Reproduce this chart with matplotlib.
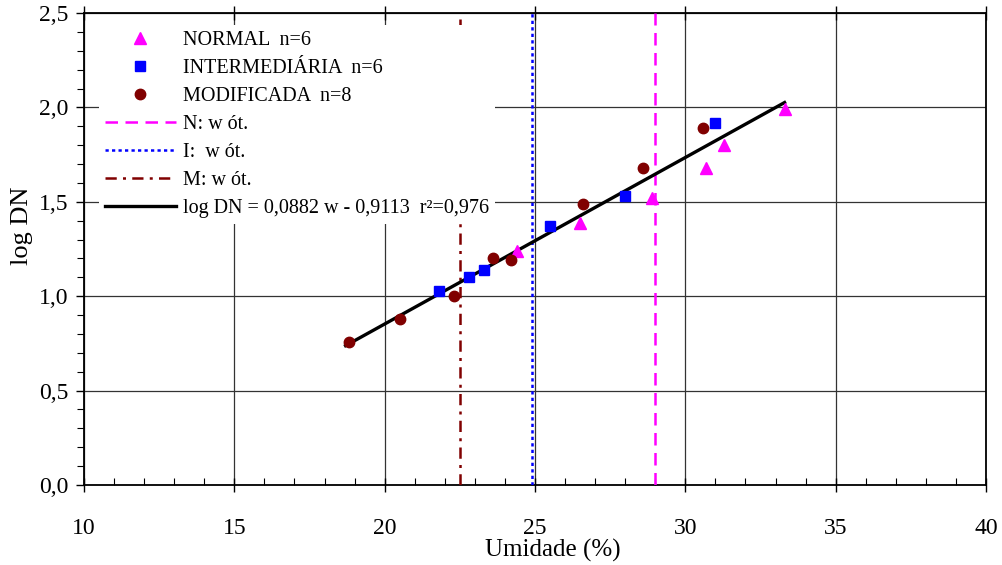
import matplotlib
matplotlib.use("Agg")
import matplotlib.pyplot as plt
import numpy as np
from matplotlib.ticker import MultipleLocator, FuncFormatter

plt.rcParams['font.family'] = ['Liberation Serif', 'DejaVu Serif']

# Data
normal_w = [24.4, 26.5, 28.9, 30.7, 31.3, 33.3]
normal_y = [1.24, 1.39, 1.52, 1.68, 1.80, 1.99]
inter_w = [21.8, 22.8, 23.3, 25.5, 28.0, 31.0]
inter_y = [1.03, 1.10, 1.14, 1.37, 1.53, 1.92]
mod_w = [18.8, 20.5, 22.3, 23.6, 24.2, 26.6, 28.6, 30.6]
mod_y = [0.76, 0.88, 1.00, 1.20, 1.19, 1.49, 1.68, 1.89]
wopt_N = 29.0
wopt_I = 24.9
wopt_M = 22.5
slope = 0.0882
intercept = -0.9113
fit_range = [18.7, 33.3]

labels = ['NORMAL  n=6', 'INTERMEDIÁRIA  n=6', 'MODIFICADA  n=8',
          'N: w ót.', 'I:  w ót.', 'M: w ót.',
          'log DN = 0,0882 w - 0,9113  r²=0,976']

fig = plt.figure(figsize=(10.03, 5.65), dpi=100)
ax = fig.add_axes([84/1003, 1-485/565, (986-84)/1003, (485-13)/565])

magenta = '#FF00FF'
blue = '#0000FF'
dred = '#800000'

h1, = ax.plot(normal_w, normal_y, '^', color=magenta, ms=9, ls='none', zorder=4)
h2, = ax.plot(inter_w, inter_y, 's', color=blue, ms=7, ls='none', zorder=4)
h3, = ax.plot(mod_w, mod_y, 'o', color=dred, ms=7.5, ls='none', zorder=4)
h4 = ax.axvline(wopt_N, color=magenta, ls=(0, (5, 3)), lw=1.8, zorder=3)
h5 = ax.axvline(wopt_I, color=blue, ls=(0, (1.3, 1.3)), lw=1.8, zorder=3)
h6 = ax.axvline(wopt_M, color=dred, ls=(0, (4.5, 2.5, 1.2, 2.5)), lw=1.8, zorder=3)
xf = np.array(fit_range)
h7, = ax.plot(xf, slope*xf + intercept, color='black', lw=2.4, zorder=3)

ax.set_xlim(10, 40)
ax.set_ylim(0, 2.5)
ax.xaxis.set_major_locator(MultipleLocator(5))
ax.xaxis.set_minor_locator(MultipleLocator(1))
ax.yaxis.set_major_locator(MultipleLocator(0.5))
ax.yaxis.set_minor_locator(MultipleLocator(0.1))
ax.yaxis.set_major_formatter(FuncFormatter(lambda v, p: f"{v:.1f}".replace('.', ',')))
ax.xaxis.set_major_formatter(FuncFormatter(lambda v, p: f"{v:.0f}"))

ax.grid(True, which='major', color='#333333', lw=0.9, zorder=1)
ax.tick_params(axis='x', which='major', direction='inout', length=10, width=1, labelsize=17, pad=19, top=True)
ax.tick_params(axis='x', which='minor', direction='in', length=5, width=0.8, top=False)
ax.tick_params(axis='y', which='major', direction='out', length=6, width=1, labelsize=17, pad=5)
ax.tick_params(axis='y', which='minor', direction='out', length=5, width=0.8)
for s in ax.spines.values():
    s.set_linewidth(1.3)

ax.set_xlabel('Umidade (%)', fontsize=18)
ax.xaxis.set_label_coords(0.52, -0.115)
ax.set_ylabel('log DN', fontsize=19)
ax.yaxis.set_label_coords(-0.057, 0.55)

leg = ax.legend([h1, h2, h3, h4, h5, h6, h7], labels, loc='upper left',
                bbox_to_anchor=(0.0166, 0.975), fontsize=14.5, frameon=True,
                fancybox=False, edgecolor='none', framealpha=1,
                handlelength=3.5, handletextpad=0.35, labelspacing=0.44,
                borderpad=0.3, borderaxespad=0)
leg.set_zorder(5)

fig.savefig('out.png', dpi=100)
